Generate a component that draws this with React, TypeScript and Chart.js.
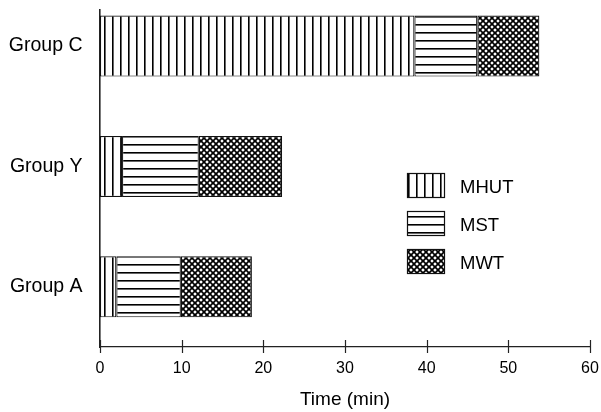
import React, { useEffect, useRef } from 'react';
import { Chart, registerables } from 'chart.js';

Chart.register(...registerables);

// ---- data ----
const categories = ['Group A', 'Group Y', 'Group C']; // bottom -> top
const seriesNames = ['MHUT', 'MST', 'MWT'];
const mhutValues = [2.0, 2.7, 38.5];
const mstValues = [7.9, 9.4, 7.7];
const mwtValues = [8.7, 10.2, 7.6];
const xMin = 0;
const xMax = 60;
const xStep = 10;
const xTitle = 'Time (min)';

const FONT = '"Liberation Sans", Arial, Helvetica, sans-serif';

function makePattern(kind: string): CanvasPattern | string {
  const c = document.createElement('canvas');
  const s = kind === 'cross' ? 6 : 8;
  c.width = s;
  c.height = s;
  const g = c.getContext('2d');
  if (!g) return '#fff';
  g.fillStyle = '#fff';
  g.fillRect(0, 0, s, s);
  g.fillStyle = '#000';
  g.strokeStyle = '#000';
  if (kind === 'vertical') {
    g.fillRect(0, 0, 1.6, s);
  } else if (kind === 'horizontal') {
    g.fillRect(0, 0, s, 1.6);
  } else {
    g.lineWidth = 1.7;
    for (const o of [-s, 0, s]) {
      g.beginPath();
      g.moveTo(o, 0);
      g.lineTo(o + s, s);
      g.stroke();
      g.beginPath();
      g.moveTo(o + s, 0);
      g.lineTo(o, s);
      g.stroke();
    }
  }
  const ctx = document.createElement('canvas').getContext('2d');
  const p = ctx ? ctx.createPattern(c, 'repeat') : null;
  return p || '#888';
}

const tickMarksPlugin = {
  id: 'tickMarks',
  afterDraw(chart: any) {
    const ctx = chart.ctx;
    const xs = chart.scales.x;
    const bottom = chart.chartArea.bottom;
    ctx.save();
    ctx.strokeStyle = '#222';
    ctx.lineWidth = 1.2;
    xs.ticks.forEach((t: any) => {
      const px = Math.round(xs.getPixelForValue(t.value)) + 0.5;
      ctx.beginPath();
      ctx.moveTo(px, bottom - 7);
      ctx.lineTo(px, bottom + 6);
      ctx.stroke();
    });
    ctx.restore();
  },
};

const legendPlugin = {
  id: 'patternLegend',
  afterDraw(chart: any) {
    const ctx = chart.ctx;
    const boxX = 407;
    const boxY0 = 173;
    const gap = 38;
    const w = 37;
    const h = 24;
    ctx.save();
    chart.data.datasets.forEach((ds: any, i: number) => {
      const y = boxY0 + i * gap;
      ctx.fillStyle = ds.backgroundColor;
      ctx.fillRect(boxX, y, w, h);
      ctx.strokeStyle = '#111';
      ctx.lineWidth = 1.2;
      ctx.strokeRect(boxX + 0.5, y + 0.5, w, h);
      ctx.fillStyle = '#000';
      ctx.font = `18.5px ${FONT}`;
      ctx.textAlign = 'left';
      ctx.textBaseline = 'middle';
      ctx.fillText(ds.label, boxX + 53, y + h / 2 + 3);
    });
    ctx.restore();
  },
};

export default function App() {
  const ref = useRef<HTMLCanvasElement | null>(null);

  useEffect(() => {
    document.body.style.margin = '0';
    document.body.style.overflow = 'hidden';
    const canvas = ref.current;
    if (!canvas) return;

    const patterns = [makePattern('vertical'), makePattern('horizontal'), makePattern('cross')];
    const allValues = [mhutValues, mstValues, mwtValues];

    const datasets = seriesNames.map((name, si) => ({
      label: name,
      data: categories.map((_, ci) => ({ x: allValues[si][ci], y: ci })),
      backgroundColor: patterns[si] as any,
      borderColor: '#111',
      borderWidth: 1.2,
      borderSkipped: false as any,
      barPercentage: 1,
      categoryPercentage: 0.507,
    }));

    const chart = new Chart(canvas, {
      type: 'bar',
      data: { datasets },
      options: {
        indexAxis: 'y',
        animation: false,
        responsive: false,
        maintainAspectRatio: false,
        layout: { padding: { left: 0, right: 11, top: 10, bottom: 0 } },
        plugins: {
          legend: { display: false },
          tooltip: { enabled: false },
        },
        scales: {
          x: {
            type: 'linear',
            stacked: true,
            min: xMin,
            max: xMax,
            offset: false,
            grid: { display: false, drawTicks: false, tickLength: 0 },
            border: { display: true, color: '#222', width: 1.2 },
            ticks: {
              stepSize: xStep,
              color: '#000',
              font: { family: FONT, size: 16 },
              padding: 12.4,
              maxRotation: 0,
            },
            title: {
              display: true,
              text: xTitle,
              color: '#000',
              font: { family: FONT, size: 19 },
              padding: { top: 0, bottom: 1 },
            },
            afterFit(scale: any) {
              scale.height = 65;
              scale.paddingLeft = 0;
              scale.paddingRight = 0;
            },
          },
          y: {
            type: 'linear',
            stacked: true,
            min: -0.5,
            max: 2.3,
            offset: false,
            grid: { display: false, drawTicks: false, tickLength: 0 },
            border: { display: true, color: '#222', width: 1.6 },
            afterBuildTicks(scale: any) {
              scale.ticks = categories.map((_, i) => ({ value: i }));
            },
            ticks: {
              color: '#000',
              font: { family: FONT, size: 19.5 },
              padding: 17.5,
              callback: (v: any) => categories[Number(v)] ?? '',
            },
            afterFit(scale: any) {
              scale.width = 100;
              scale.paddingTop = 0;
              scale.paddingBottom = 0;
            },
          },
        },
      } as any,
      plugins: [tickMarksPlugin, legendPlugin],
    });

    return () => chart.destroy();
  }, []);

  return (
    <div style={{ width: 601, height: 412, background: '#fff' }}>
      <canvas ref={ref} width={601} height={412} style={{ display: 'block', width: 601, height: 412 }} />
    </div>
  );
}
